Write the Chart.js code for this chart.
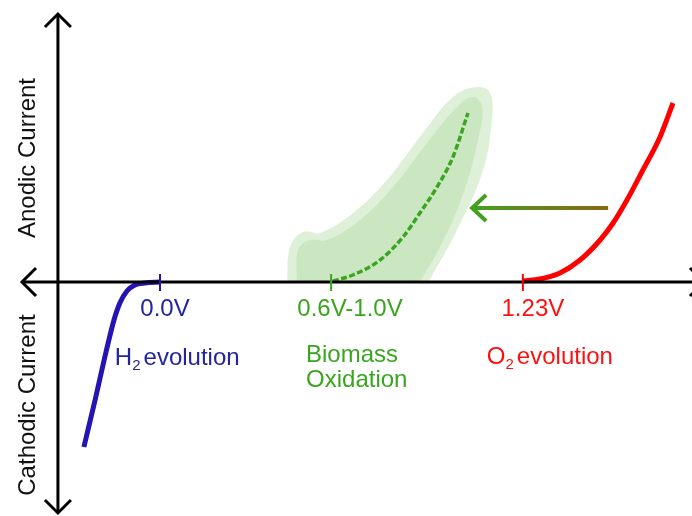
<!DOCTYPE html>
<html>
<head>
<meta charset="utf-8">
<script src="https://cdn.jsdelivr.net/npm/chart.js@4.4.0/dist/chart.umd.min.js"></script>
<style>
    body { margin: 0; background: #fff; }
    canvas { display: block; }
</style>
</head>
<body>
<canvas id="chart" width="692" height="516"></canvas>
<script>
// Potential in V (x), current in arbitrary units (y)
const h2Potential = [-0.258, -0.220, -0.183, -0.156, -0.136, -0.112, -0.085, -0.051, 0];
const h2Current   = [-1.65, -1.18, -0.70, -0.38, -0.21, -0.09, -0.03, -0.01, 0];

const o2Potential = [1.231, 1.288, 1.356, 1.424, 1.492, 1.536, 1.583, 1.637, 1.695, 1.739];
const o2Current   = [0.01, 0.03, 0.09, 0.22, 0.42, 0.59, 0.82, 1.12, 1.45, 1.79];

const bioPotential = [0.586, 0.654, 0.746, 0.824, 0.881, 0.939, 0.993, 1.044];
const bioCurrent   = [0.01, 0.07, 0.22, 0.45, 0.69, 0.95, 1.25, 1.69];

// Shaded band around the biomass curve (outer and inner outline)
const bandOuterPotential = [0.431, 0.441, 0.485, 0.542, 0.654, 0.769, 0.881, 0.993, 1.075, 1.119, 1.125, 1.095, 1.007, 0.910];
const bandOuterCurrent   = [0, 0.35, 0.50, 0.49, 0.69, 1.02, 1.45, 1.85, 1.95, 1.89, 1.62, 1.12, 0.52, 0];
const bandInnerPotential = [0.464, 0.468, 0.508, 0.566, 0.678, 0.790, 0.905, 1.007, 1.061, 1.092, 1.078, 1.024, 0.949, 0.881];
const bandInnerCurrent   = [0, 0.32, 0.42, 0.42, 0.62, 0.95, 1.39, 1.75, 1.85, 1.75, 1.42, 0.85, 0.35, 0];

// Shift arrow (from O2 evolution toward biomass oxidation)
const shiftPotential = [1.519, 1.058];
const shiftCurrent   = [0.74, 0.74];

// Tick marks on the potential axis
const tickPotential = [0, 0.58, 1.23];
const tickLabels    = ['0.0V', '0.6V-1.0V', '1.23V'];

const BLUE = '#2414b2';
const BLUE_TEXT = '#24249e';
const GREEN = '#3aa51f';
const RED = '#ff0000';
const FONT = '24px "Liberation Sans", Arial, sans-serif';

function pts(xs, ys) {
    return xs.map((x, i) => ({ x: x, y: ys[i] }));
}

// Axes, ticks, texts and arrowheads
const diagramPlugin = {
    id: 'diagram',
    afterDatasetsDraw(chart) {
        const ctx = chart.ctx;
        const xs = chart.scales.x;
        const ys = chart.scales.y;
        const px = v => xs.getPixelForValue(v);
        const py = v => ys.getPixelForValue(v);

        const y0 = py(0);
        const xAxis = px(-0.346);

        ctx.save();
        ctx.strokeStyle = '#000';
        ctx.lineWidth = 3;
        ctx.lineCap = 'butt';
        ctx.lineJoin = 'miter';

        // horizontal axis
        ctx.beginPath();
        ctx.moveTo(22, y0);
        ctx.lineTo(704, y0);
        ctx.stroke();
        // vertical axis
        ctx.beginPath();
        ctx.moveTo(xAxis, 14);
        ctx.lineTo(xAxis, 513);
        ctx.stroke();

        // arrowheads
        function chevron(tx, ty, ax, ay, bx, by) {
            ctx.beginPath();
            ctx.moveTo(ax, ay);
            ctx.lineTo(tx, ty);
            ctx.lineTo(bx, by);
            ctx.stroke();
        }
        chevron(22, y0, 36, y0 - 14, 36, y0 + 14);
        chevron(704, y0, 690, y0 - 14, 690, y0 + 14);
        chevron(xAxis, 14, xAxis - 13, 27, xAxis + 13, 27);
        chevron(xAxis, 513, xAxis - 13, 500, xAxis + 13, 500);

        // ticks
        const tickColors = [BLUE, GREEN, RED];
        ctx.lineWidth = 2;
        tickPotential.forEach((v, i) => {
            ctx.strokeStyle = tickColors[i];
            ctx.beginPath();
            ctx.moveTo(px(v), y0 - 8);
            ctx.lineTo(px(v), y0 + 9);
            ctx.stroke();
        });

        // tick labels
        ctx.font = FONT;
        ctx.textBaseline = 'middle';
        ctx.textAlign = 'center';
        const labelColors = [BLUE_TEXT, GREEN, '#ff1010'];
        const labelShift = [0.017, 0.064, 0.034];
        tickLabels.forEach((t, i) => {
            ctx.fillStyle = labelColors[i];
            ctx.fillText(t, px(tickPotential[i] + labelShift[i]), py(-0.27));
        });

        // process labels with subscripts
        function subLabel(lead, sub, rest, x, y, color) {
            ctx.fillStyle = color;
            ctx.textAlign = 'left';
            ctx.font = FONT;
            ctx.fillText(lead, x, y);
            let w = ctx.measureText(lead).width;
            ctx.font = '15px "Liberation Sans", Arial, sans-serif';
            ctx.fillText(sub, x + w, y + 8);
            w += ctx.measureText(sub).width;
            ctx.font = FONT;
            ctx.fillText(rest, x + w + 3, y);
        }
        subLabel('H', '2', 'evolution', px(-0.153), py(-0.76), BLUE_TEXT);
        subLabel('O', '2', 'evolution', px(1.108), py(-0.75), '#ff1010');

        ctx.fillStyle = GREEN;
        ctx.textAlign = 'left';
        ctx.font = FONT;
        ctx.fillText('Biomass', px(0.495), py(-0.73));
        ctx.fillText('Oxidation', px(0.495), py(-0.98));

        // rotated current labels
        ctx.fillStyle = '#111';
        ctx.textAlign = 'center';
        [['Anodic Current', 1.24], ['Cathodic Current', -1.23]].forEach(([t, v]) => {
            ctx.save();
            ctx.translate(px(-0.447), py(v));
            ctx.rotate(-Math.PI / 2);
            ctx.fillText(t, 0, 0);
            ctx.restore();
        });

        // arrowhead of the shift arrow
        const tipX = px(shiftPotential[1]);
        const tipY = py(shiftCurrent[1]);
        ctx.strokeStyle = '#44a020';
        ctx.lineWidth = 4;
        chevron(tipX, tipY, tipX + 14, tipY - 13, tipX + 14, tipY + 13);

        ctx.restore();
    }
};

const ctx = document.getElementById('chart').getContext('2d');
new Chart(ctx, {
    type: 'line',
    data: {
        datasets: [
            {
                data: pts(h2Potential, h2Current),
                borderColor: BLUE, borderWidth: 5, cubicInterpolationMode: 'monotone', order: 0
            },
            {
                data: pts(o2Potential, o2Current),
                borderColor: RED, borderWidth: 5, cubicInterpolationMode: 'monotone', order: 0
            },
            {
                data: pts(bioPotential, bioCurrent),
                borderColor: GREEN, borderWidth: 3.5, borderDash: [6, 2.5],
                cubicInterpolationMode: 'monotone', order: 0
            },
            {
                data: pts(shiftPotential, shiftCurrent),
                borderWidth: 4, order: 0,
                borderColor: c => {
                    const chart = c.chart;
                    if (!chart.chartArea) return '#6a8a18';
                    const xs = chart.scales.x;
                    const g = chart.ctx.createLinearGradient(
                        xs.getPixelForValue(shiftPotential[1]), 0,
                        xs.getPixelForValue(shiftPotential[0]), 0);
                    g.addColorStop(0, '#44a020');
                    g.addColorStop(1, '#8c6612');
                    return g;
                }
            },
            {
                data: pts(bandInnerPotential, bandInnerCurrent),
                borderWidth: 0, borderColor: 'rgba(0,0,0,0)',
                backgroundColor: '#cbe7c1', fill: 'shape', tension: 0.4, order: 9
            },
            {
                data: pts(bandOuterPotential, bandOuterCurrent),
                borderWidth: 0, borderColor: 'rgba(0,0,0,0)',
                backgroundColor: '#def0d7', fill: 'shape', tension: 0.4, order: 10
            }
        ]
    },
    options: {
        responsive: false,
        animation: false,
        events: [],
        layout: { padding: 0 },
        elements: { point: { radius: 0 } },
        scales: {
            x: { type: 'linear', display: false, min: -0.5424, max: 1.8034 },
            y: { type: 'linear', display: false, min: -2.34, max: 2.82 }
        },
        plugins: {
            legend: { display: false },
            tooltip: { enabled: false }
        }
    },
    plugins: [diagramPlugin]
});
</script>
</body>
</html>
